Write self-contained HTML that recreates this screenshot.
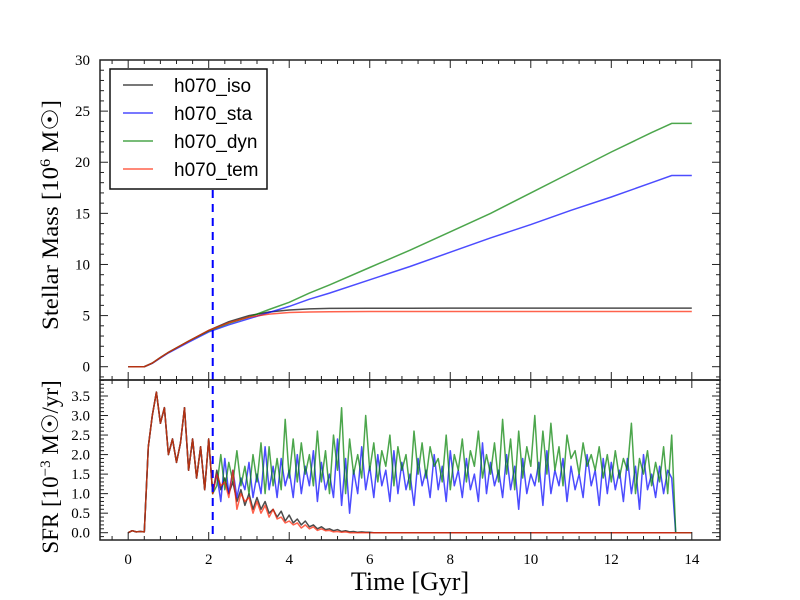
<!DOCTYPE html>
<html><head><meta charset="utf-8"><style>
html,body{margin:0;padding:0;background:#fff;}
svg{display:block;}
</style></head><body>
<svg id="chart" width="800" height="600" xmlns="http://www.w3.org/2000/svg">
<rect width="800" height="600" fill="#fff"/>
<g id="marks"></g>
<g id="axes"></g>
<text transform="translate(58,215) rotate(-90)" text-anchor="middle" font-family="Liberation Serif, serif" font-size="23" textLength="230" lengthAdjust="spacingAndGlyphs">Stellar Mass  [10<tspan baseline-shift="super" font-size="15">6</tspan> M☉]</text>
<text transform="translate(58,467) rotate(-90)" text-anchor="middle" font-family="Liberation Serif, serif" font-size="23">SFR  [10<tspan baseline-shift="super" font-size="15">−3</tspan> M☉/yr]</text>
<text x="410" y="590" text-anchor="middle" font-family="Liberation Serif, serif" font-size="26">Time [Gyr]</text>
<g id="legend"></g>
</svg>
<script>
const seriesNames = ["h070_iso","h070_sta","h070_dyn","h070_tem"];
const seriesColors = ["#000000","#0000ff","#008000","#ff2000"];
const massTime = [0,0.4,0.6,0.8,1,1.5,2,2.5,3,3.5,4,4.5,5,6,7,8,9,10,11,12,13,13.5,14];
const massIso = [0,0,0.35,0.9,1.4,2.5,3.55,4.4,5.0,5.35,5.55,5.65,5.7,5.72,5.72,5.73,5.73,5.73,5.73,5.73,5.73,5.73,5.73];
const massSta = [0,0,0.33,0.85,1.35,2.4,3.4,4.1,4.7,5.3,5.9,6.6,7.2,8.5,9.8,11.2,12.6,13.9,15.3,16.6,18.0,18.7,18.7];
const massDyn = [0,0,0.35,0.9,1.4,2.5,3.5,4.25,4.85,5.6,6.3,7.2,8.0,9.7,11.4,13.2,15.0,17.0,19.0,21.0,22.9,23.8,23.8];
const massTem = [0,0,0.35,0.9,1.4,2.5,3.55,4.3,4.85,5.15,5.3,5.35,5.38,5.4,5.4,5.4,5.4,5.4,5.4,5.4,5.4,5.4,5.4];
const sfrStep = 0.1;
const sfrEarly = [0,0.05,0.02,0.03,0.02,2.2,3.0,3.6,2.8,3.2,2.0,2.4,1.8,2.3,3.2,1.6,2.4,1.4,2.2,1.1,2.4,1.0];
const sfrIsoLate = [1.6,1.1,1.4,1.0,1.3,0.8,1.1,0.7,1.0,0.6,0.9,0.6,0.8,0.5,0.6,0.4,0.55,0.3,0.45,0.25,0.35,0.2,0.3,0.15,0.2,0.1,0.15,0.08,0.1,0.05,0.08,0.03,0.05,0.02,0.03,0.01,0.02,0.01,0.01,0.0];
const sfrTemLate = [1.5,1.2,1.3,0.9,1.6,0.6,1.0,0.8,0.9,0.5,0.8,0.5,0.7,0.4,0.6,0.35,0.4,0.25,0.3,0.2,0.25,0.12,0.2,0.1,0.15,0.06,0.1,0.05,0.06,0.02,0.03,0.01,0.02,0.0];
const sfrStaLate = [1.5,0.8,1.9,1.0,1.6,0.9,1.4,1.1,1.8,0.9,1.5,1.0,2.2,1.1,1.7,0.9,1.9,1.2,1.6,0.9,2.0,1.0,1.7,1.2,2.1,0.8,1.8,1.1,1.5,0.9,2.4,0.7,1.9,0.5,1.6,1.0,2.2,1.1,1.7,0.9,2.0,1.2,1.6,0.8,2.1,1.0,1.8,1.1,1.5,0.7,1.9,1.2,1.6,0.9,2.0,1.1,1.7,0.8,2.1,1.2,1.6,0.9,1.9,1.1,1.5,0.8,2.3,1.0,1.8,1.2,1.6,0.9,2.0,1.1,1.7,0.6,1.9,1.0,1.5,1.2,1.8,0.7,2.1,1.0,1.6,1.2,1.9,0.8,1.7,1.1,1.5,0.9,2.0,1.2,1.6,0.7,1.9,1.0,1.8,1.1,1.6,0.8,1.9,1.0,1.7,0.6,2.0,1.1,1.5,0.9,1.7,1.0,1.6,1.4,0.0];
const sfrDynLate = [1.2,2.0,1.1,1.8,1.3,2.1,1.2,1.7,1.0,2.0,1.3,2.3,1.0,2.2,1.2,1.9,1.1,2.9,1.4,2.4,1.3,2.3,1.5,2.0,1.2,2.6,1.3,2.1,1.0,2.5,1.6,3.2,1.0,2.4,1.5,2.0,1.4,3.0,1.6,2.3,1.3,2.1,1.7,2.5,1.2,2.2,1.6,2.0,1.1,2.6,1.5,2.3,1.4,2.2,1.7,1.9,1.3,2.5,1.1,2.0,1.6,2.4,1.3,2.1,1.7,2.6,1.4,2.0,1.5,2.3,1.3,2.9,1.5,2.4,1.1,2.6,1.4,2.2,1.7,3.0,1.3,2.6,1.5,2.8,1.6,2.2,1.2,2.5,1.9,2.1,1.5,2.3,1.7,2.0,1.6,2.2,1.4,2.0,1.3,2.1,1.4,1.9,1.6,2.8,1.0,1.9,1.5,2.1,1.2,1.8,1.3,2.2,1.0,2.5,0.0];
const sfrIso = sfrEarly.concat(sfrIsoLate);
const sfrSta = sfrEarly.concat(sfrStaLate);
const sfrDyn = sfrEarly.concat(sfrDynLate);
const sfrTem = sfrEarly.concat(sfrTemLate);
const markerTime = [2.1];
const xTicks = [0,2,4,6,8,10,12,14];
const massTicks = [0,5,10,15,20,25,30];
const sfrTicks = [0.0,0.5,1.0,1.5,2.0,2.5,3.0,3.5];

const NS = "http://www.w3.org/2000/svg";
const L = 100, R = 720, T1 = 60, B1 = 380, T2 = 380, B2 = 540;
const xMin = -0.7, xMax = 14.7, xEnd = 14;
const X = t => L + (t - xMin) / (xMax - xMin) * (R - L);
const Ym = v => 366.7 - v * 10.223;
const Ys = v => 532.7 - v * 39.06;
const marks = document.getElementById('marks');
const axes = document.getElementById('axes');
function mk(tag, attrs, parent){ const e = document.createElementNS(NS, tag); for (const k in attrs) e.setAttribute(k, attrs[k]); parent.appendChild(e); return e; }

const massSets = [massIso, massSta, massDyn, massTem];
const sfrSets = [sfrIso, sfrSta, sfrDyn, sfrTem];
const keys = ['iso','sta','dyn','tem'];
for (let s = 0; s < 4; s++) {
  let d = massTime.map((t,i)=>(i?'L':'M')+X(t).toFixed(1)+','+Ym(massSets[s][i]).toFixed(1)).join(' ');
  const p = mk('path', {d:d, fill:'none', stroke:seriesColors[s], 'stroke-opacity':0.7, 'stroke-width':1.5}, marks);
  
  
}
for (let s = 0; s < 4; s++) {
  const arr = sfrSets[s];
  let d = arr.map((v,i)=>(i?'L':'M')+X(i*sfrStep).toFixed(1)+','+Ys(v).toFixed(1)).join(' ');
  d += ' L' + X(xEnd).toFixed(1) + ',' + Ys(arr[arr.length-1]).toFixed(1);
  const p = mk('path', {d:d, fill:'none', stroke:seriesColors[s], 'stroke-opacity':0.7, 'stroke-width':1.5, 'stroke-linejoin':'round'}, marks);
  
  
}
markerTime.forEach(t=>{
  const l = mk('line', {x1:X(t), x2:X(t), y1:190, y2:B2, stroke:'#0000ff', 'stroke-width':2, 'stroke-dasharray':'8,6'}, marks);
  
  
});

[[T1,B1,'top-panel-frame'],[T2,B2,'bottom-panel-frame']].forEach(([t,b,n])=>{
  const r = mk('rect', {x:L, y:t, width:R-L, height:b-t, fill:'none', stroke:'#222', 'stroke-width':1.5}, axes);
  
  
});
const tk = (x1,y1,x2,y2)=>mk('line',{x1,y1,x2,y2,stroke:'#222','stroke-width':1},axes);
for (let i = 0; i <= 36; i++) {
  const t = -0.4 + i*0.4; if (t > xMax) break;
  const major = Math.abs(t/2 - Math.round(t/2)) < 1e-6;
  const len = major ? 8 : 4;
  const x = X(t);
  [[T1,B1],[T2,B2]].forEach(([a,b])=>{ tk(x,a,x,a+len); tk(x,b,x,b-len); });
}
xTicks.forEach(t=>{
  const e = mk('text',{x:X(t),y:564,'text-anchor':'middle','font-family':'Liberation Serif, serif','font-size':15},axes);
  e.textContent = t;
  
  
});
for (let v = -1; v <= 30; v++) {
  const y = Ym(v); const major = v % 5 === 0; const len = major ? 8 : 4;
  tk(L,y,L+len,y); tk(R,y,R-len,y);
}
massTicks.forEach(v=>{
  const e = mk('text',{x:L-10,y:Ym(v)+5,'text-anchor':'end','font-family':'Liberation Serif, serif','font-size':15},axes);
  e.textContent = v;
  
  
});
for (let i = -1; i <= 39; i++) {
  const v = i*0.1; const y = Ys(v); if (y < T2) break;
  const major = i % 5 === 0; const len = major ? 8 : 4;
  tk(L,y,L+len,y); tk(R,y,R-len,y);
}
sfrTicks.forEach(v=>{
  const e = mk('text',{x:L-10,y:Ys(v)+5,'text-anchor':'end','font-family':'Liberation Serif, serif','font-size':15},axes);
  e.textContent = v.toFixed(1);
  
  
});

const lg = document.getElementById('legend');
mk('rect',{x:110,y:69,width:157,height:120,fill:'#fff',stroke:'#111','stroke-width':1.5},lg);
seriesNames.forEach((n,i)=>{
  const y = 85 + i*28;
  const l = mk('line',{x1:123,x2:153,y1:y,y2:y,stroke:seriesColors[i],'stroke-opacity':0.7,'stroke-width':1.5},lg);
  
  
  const t = mk('text',{x:174,y:y+7,'font-family':'Liberation Sans, sans-serif','font-size':19},lg);
  t.textContent = n;
  
  
});
</script>
</body></html>
